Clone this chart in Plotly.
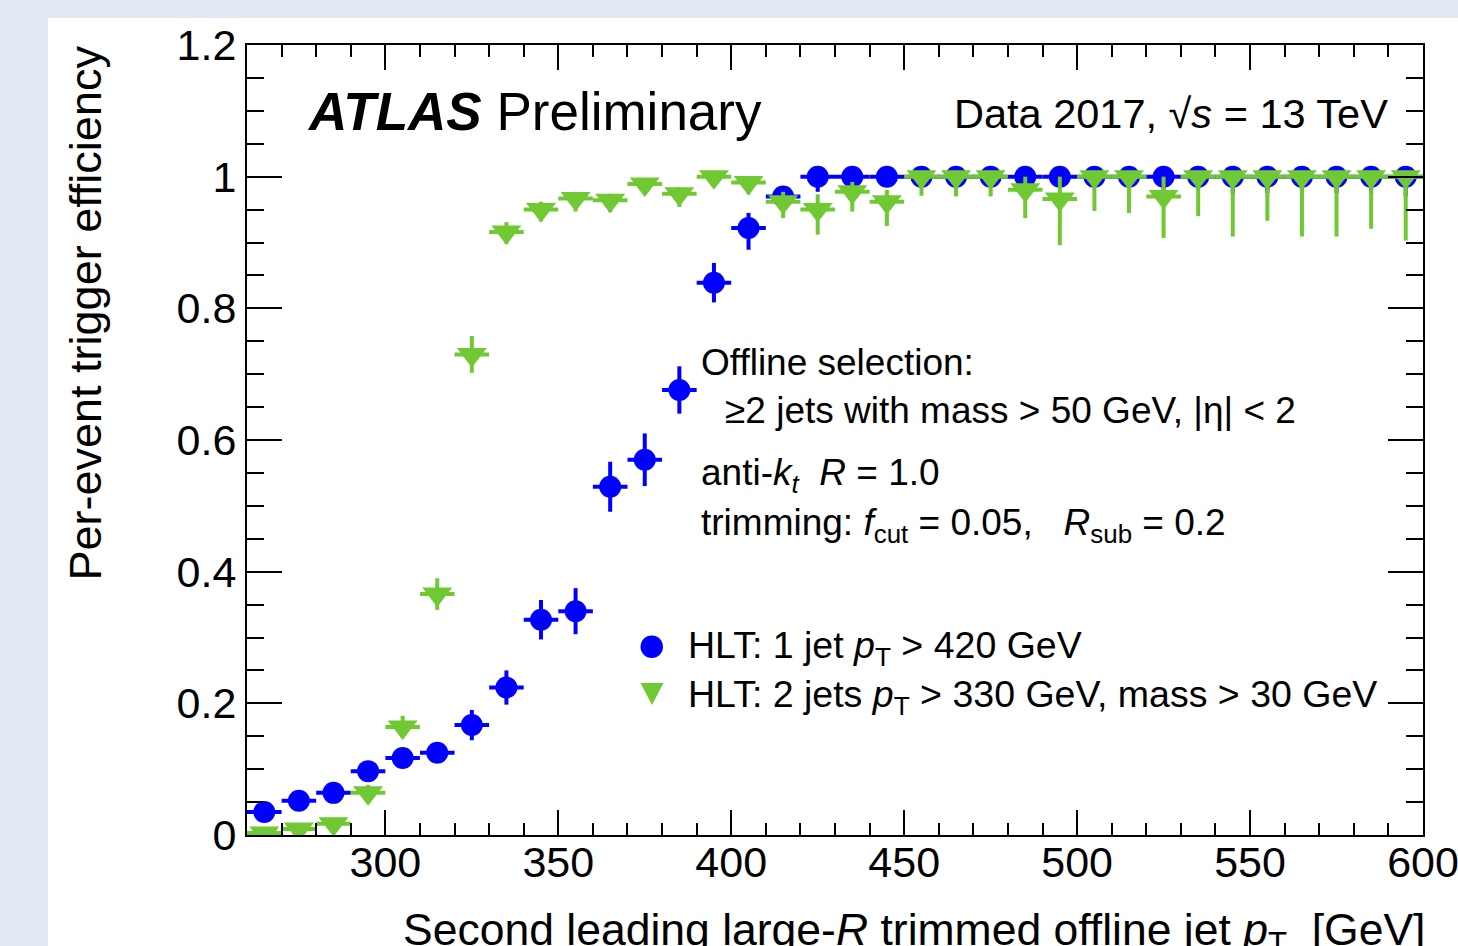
import plotly.graph_objects as go

# ---------------- data ----------------
bin_centers = [265, 275, 285, 295, 305, 315, 325, 335, 345, 355, 365, 375, 385, 395,
               405, 415, 425, 435, 445, 455, 465, 475, 485, 495, 505, 515, 525, 535,
               545, 555, 565, 575, 585, 595]
bin_half_width = [5] * len(bin_centers)

eff_1jet = [0.035, 0.052, 0.064, 0.097, 0.117, 0.125, 0.167, 0.224, 0.327, 0.340,
            0.529, 0.570, 0.676, 0.839, 0.922, 0.970, 1.0, 1.0, 1.0, 1.0, 1.0, 1.0,
            1.0, 1.0, 1.0, 1.0, 1.0, 1.0, 1.0, 1.0, 1.0, 1.0, 1.0, 1.0]
err_up_1jet = [0.006, 0.008, 0.009, 0.011, 0.012, 0.013, 0.023, 0.026, 0.030, 0.035,
               0.038, 0.040, 0.036, 0.030, 0.023, 0.015, 0.0, 0.0, 0.0, 0.0, 0.0, 0.0,
               0.0, 0.0, 0.0, 0.0, 0.0, 0.0, 0.0, 0.0, 0.0, 0.0, 0.0, 0.0]
err_dn_1jet = [0.006, 0.008, 0.009, 0.011, 0.012, 0.013, 0.023, 0.026, 0.030, 0.035,
               0.038, 0.040, 0.036, 0.030, 0.033, 0.020, 0.023, 0.012, 0.012, 0.010, 0.010, 0.010,
               0.012, 0.015, 0.015, 0.015, 0.020, 0.020, 0.025, 0.025, 0.025, 0.025, 0.025, 0.030]

eff_2jet = [0.003, 0.009, 0.017, 0.064, 0.164, 0.366, 0.730, 0.916, 0.950, 0.967,
            0.964, 0.989, 0.974, 1.0, 0.991, 0.962, 0.950, 0.977, 0.962, 1.0, 1.0, 1.0,
            0.980, 0.966, 1.0, 1.0, 0.970, 1.0, 1.0, 1.0, 1.0, 1.0, 1.0, 1.0]
err_up_2jet = [0.004, 0.006, 0.008, 0.012, 0.017, 0.024, 0.028, 0.015, 0.012, 0.010,
               0.010, 0.008, 0.010, 0.0, 0.009, 0.015, 0.023, 0.015, 0.018, 0.0, 0.0, 0.0,
               0.020, 0.034, 0.0, 0.0, 0.030, 0.0, 0.0, 0.0, 0.0, 0.0, 0.0, 0.0]
err_dn_2jet = [0.003, 0.006, 0.008, 0.012, 0.017, 0.024, 0.028, 0.018, 0.018, 0.020,
               0.018, 0.012, 0.020, 0.012, 0.018, 0.025, 0.038, 0.030, 0.037, 0.029, 0.030, 0.030,
               0.043, 0.070, 0.052, 0.055, 0.063, 0.060, 0.091, 0.067, 0.091, 0.091, 0.079, 0.097]

x_range = [260, 600]
y_range = [0, 1.2]
x_tickvals = [300, 350, 400, 450, 500, 550, 600]
y_tickvals = [0, 0.2, 0.4, 0.6, 0.8, 1.0, 1.2]
y_ticktext = ["0", "0.2", "0.4", "0.6", "0.8", "1", "1.2"]

name_1jet = "HLT: 1 jet <i>p</i><sub>T</sub> > 420 GeV"
name_2jet = "HLT: 2 jets <i>p</i><sub>T</sub> > 330 GeV, mass > 30 GeV"

BLUE = "#0000ff"
GREEN = "#70c832"
FONT = "Liberation Sans, Arial, Helvetica, sans-serif"

W, H = 1458, 946
L, R, T, B = 247, 1423, 45, 835


def px(xp):
    return (xp - L) / (R - L)


def py(yp):
    return (B - yp) / (B - T)


fig = go.Figure()

fig.add_trace(go.Scatter(
    x=bin_centers, y=eff_1jet, mode="markers", name=name_1jet, showlegend=False,
    marker=dict(symbol="circle", size=22, color=BLUE),
    error_x=dict(type="data", array=bin_half_width, color=BLUE, thickness=4, width=0),
    error_y=dict(type="data", symmetric=False, array=err_up_1jet, arrayminus=err_dn_1jet,
                 color=BLUE, thickness=4, width=0),
))
fig.add_trace(go.Scatter(
    x=bin_centers, y=eff_2jet, mode="markers", name=name_2jet, showlegend=False,
    marker=dict(symbol="triangle-down", size=26, color=GREEN),
    error_x=dict(type="data", array=bin_half_width, color=GREEN, thickness=4, width=0),
    error_y=dict(type="data", symmetric=False, array=err_up_2jet, arrayminus=err_dn_2jet,
                 color=GREEN, thickness=4, width=0),
))

axis_common = dict(
    showline=True, linecolor="black", linewidth=2, mirror="allticks",
    ticks="inside", tickcolor="black", tickwidth=2,
    showgrid=False, zeroline=False, automargin=False,
    ticklabeloverflow="allow",
    tickfont=dict(family=FONT, size=43, color="black"),
)

fig.update_xaxes(range=x_range, tickvals=x_tickvals, ticklen=25, ticklabelstandoff=-12,
                 minor=dict(dtick=10, tick0=260, ticklen=12, ticks="inside",
                            tickcolor="black", tickwidth=2, showgrid=False),
                 **axis_common)
fig.update_yaxes(range=y_range, tickvals=y_tickvals, ticktext=y_ticktext, ticklen=35,
                 minor=dict(dtick=0.05, tick0=0, ticklen=17, ticks="inside",
                            tickcolor="black", tickwidth=2, showgrid=False),
                 **axis_common)

ann = []


def add_text(text, xp, yp, size, xanchor="left", yanchor="middle", angle=0):
    ann.append(dict(text=text, x=px(xp), y=py(yp), xref="paper", yref="paper",
                    xanchor=xanchor, yanchor=yanchor, showarrow=False, textangle=angle,
                    font=dict(family=FONT, size=size, color="black")))


add_text("<b><i>ATLAS</i></b> Preliminary", 305, 111, 53)
add_text("Data 2017, √<i>s</i> = 13 TeV", 1390, 113, 41.5, xanchor="right")
add_text("Offline selection:", 699, 362, 37)
add_text("≥2 jets with mass > 50 GeV, |η| < 2", 723, 410, 37)
add_text("anti-<i>k</i><sub><i>t</i></sub>  <i>R</i> = 1.0", 699, 475, 37)
add_text("trimming: <i>f</i><sub>cut</sub> = 0.05,   <i>R</i><sub>sub</sub> = 0.2", 699, 525, 37)
add_text(name_1jet, 686, 648, 37.5)
add_text(name_2jet, 686, 697, 37.5)
add_text("Per-event trigger efficiency", 85, 44, 45, xanchor="center", yanchor="top", angle=-90)
add_text("Second leading large-<i>R</i> trimmed offline jet <i>p</i><sub>T</sub>  [GeV]",
         1427, 933, 44.5, xanchor="right")

shapes = [dict(type="rect", xref="paper", yref="paper",
               x0=px(48), x1=px(1470), y0=py(18), y1=py(960),
               fillcolor="white", line=dict(width=0), layer="below")]

# legend keys
shapes.append(dict(type="circle", xref="paper", yref="paper",
                   x0=px(640.5), x1=px(663), y0=py(658), y1=py(635.5),
                   fillcolor=BLUE, line=dict(width=0)))
tri = "M{:.5f},{:.5f} L{:.5f},{:.5f} L{:.5f},{:.5f} Z".format(
    px(640.5), py(683), px(663.5), py(683), px(652), py(705))
shapes.append(dict(type="path", xref="paper", yref="paper", path=tri,
                   fillcolor=GREEN, line=dict(width=0)))

fig.update_layout(
    width=W, height=H,
    margin=dict(l=L, r=W - R, t=T, b=H - B),
    paper_bgcolor="#e2e9f3", plot_bgcolor="white",
    annotations=ann, shapes=shapes,
    showlegend=False,
)

fig.write_html("out.html")
